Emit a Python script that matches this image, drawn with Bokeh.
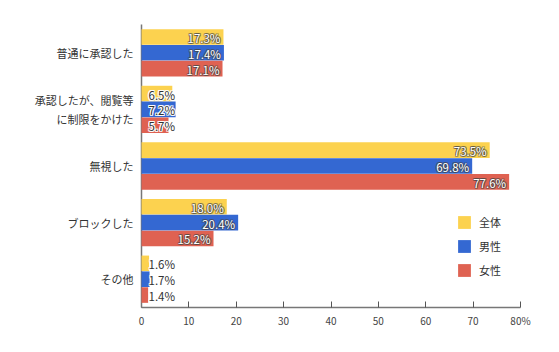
from bokeh.plotting import figure
from bokeh.models import ColumnDataSource, FactorRange, FixedTicker, Legend, LegendItem
from bokeh.transform import dodge
from bokeh.core.properties import value
from bokeh.embed import file_html
from bokeh.resources import INLINE

categories = ["普通に承認した", "承認したが、閲覧等\nに制限をかけた", "無視した", "ブロックした", "その他"]
series_names = ["全体", "男性", "女性"]
total = [17.3, 6.5, 73.5, 18.0, 1.6]
male = [17.4, 7.2, 69.8, 20.4, 1.7]
female = [17.1, 5.7, 77.6, 15.2, 1.4]
x_ticks = [0, 10, 20, 30, 40, 50, 60, 70, 80]
x_tick_labels = ["0", "10", "20", "30", "40", "50", "60", "70", "80%"]

colors = ["#FCD24F", "#3468D2", "#DF6252"]
FONT = "Noto Sans CJK JP"

p = figure(width=559, height=352, y_range=FactorRange(*reversed(categories)),
           x_range=(0, 80), output_backend="svg", toolbar_location=None,
           min_border_left=141, min_border_right=39, min_border_top=24, min_border_bottom=45)
p.outline_line_color = None
p.grid.grid_line_color = None
p.background_fill_color = "white"

halo = [(-1, 0), (1, 0), (0, -1), (0, 1), (-1, -1), (1, 1), (-1, 1), (1, -1)]


def halo_text(src, off, align, xo, fill, outline, alpha):
    for dx, dy in halo:
        p.text(x="v", y=dodge("cat", off, range=p.y_range), text="t", source=src,
               text_align=align, text_baseline="middle", x_offset=xo + dx, y_offset=1 + dy,
               text_font=value(FONT), text_font_size="11.5px", text_color=outline,
               text_alpha=alpha, level="overlay")
    p.text(x="v", y=dodge("cat", off, range=p.y_range), text="t", source=src,
           text_align=align, text_baseline="middle", x_offset=xo, y_offset=1,
           text_font=value(FONT), text_font_size="11.5px", text_color=fill, level="overlay")


bar_h = 0.275
offsets = [0.28, 0.0, -0.28]
items = []
for vals, name, col, off in zip([total, male, female], series_names, colors, offsets):
    src = ColumnDataSource(dict(cat=categories, v=vals))
    r = p.hbar(y=dodge("cat", off, range=p.y_range), right="v", left=0, height=bar_h,
               source=src, fill_color=col, line_color=None, level="overlay")
    items.append(LegendItem(label=name, renderers=[r]))

    big = [(c, v) for c, v in zip(categories, vals) if v >= 10]
    small = [(c, v) for c, v in zip(categories, vals) if v < 10]
    if big:
        bsrc = ColumnDataSource(dict(cat=[b[0] for b in big], v=[b[1] for b in big],
                                     t=["%.1f%%" % b[1] for b in big]))
        halo_text(bsrc, off, "right", -3, "white", "#444444", 0.45)
    if small:
        ssrc = ColumnDataSource(dict(cat=[s[0] for s in small], v=[0] * len(small),
                                     t=["%.1f%%" % s[1] for s in small]))
        halo_text(ssrc, off, "left", 7, "#333333", "white", 0.9)

legend = Legend(items=items, location=(315, 29), padding=0, margin=0, spacing=8,
                glyph_width=16, glyph_height=16, label_height=16, label_standoff=7,
                label_text_font=FONT, label_text_font_size="11px", label_text_color="#333333",
                border_line_color=None, background_fill_alpha=0)
p.add_layout(legend)

xa = p.xaxis[0]
xa.ticker = FixedTicker(ticks=x_ticks)
xa.major_label_overrides = {t: l for t, l in zip(x_ticks, x_tick_labels)}
xa.major_tick_in = 6
xa.major_tick_out = 0
xa.minor_tick_line_color = None
xa.axis_line_color = "#777777"
xa.axis_line_width = 1.5
xa.major_tick_line_color = "#555555"
xa.major_label_text_font = FONT
xa.major_label_text_font_size = "10px"
xa.major_label_text_color = "#444444"
xa.major_label_standoff = 5

ya = p.yaxis[0]
ya.major_tick_in = 0
ya.major_tick_out = 0
ya.axis_line_color = "#777777"
ya.axis_line_width = 1.5
ya.major_label_text_font = FONT
ya.major_label_text_font_size = "11px"
ya.major_label_text_color = "#333333"
ya.major_label_standoff = 8

open("out.html", "w").write(file_html(p, INLINE))
